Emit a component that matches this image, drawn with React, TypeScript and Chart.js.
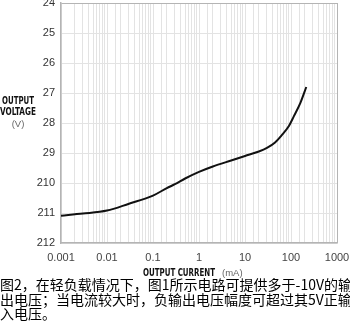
import React, { useEffect, useRef } from "react";
import { Chart, registerables } from "chart.js";

Chart.register(...registerables);

const currents = [0.001, 0.003, 0.01, 0.03, 0.1, 0.2, 0.3, 0.5, 1, 2, 5, 10, 20, 30, 45, 65, 90, 115, 160, 215];
const voltages = [-11.09, -11.02, -10.92, -10.69, -10.42, -10.17, -10.04, -9.85, -9.63, -9.45, -9.25, -9.1, -8.95, -8.83, -8.65, -8.38, -8.1, -7.78, -7.33, -6.8];

const xTickValues = [0.001, 0.01, 0.1, 1, 10, 100, 1000];
const xTickLabels = ["0.001", "0.01", "0.1", "1", "10", "100", "1000"];
const yTickValues = [-4, -5, -6, -7, -8, -9, -10, -11, -12];
const yTickLabels = ["24", "25", "26", "27", "28", "29", "210", "211", "212"];

const yTitleLines = ["OUTPUT", "VOLTAGE"];
const yTitleUnit = "(V)";
const xTitle = "OUTPUT CURRENT";
const xTitleUnit = "(mA)";
const captionLines = [
  "图2，在轻负载情况下，图1所示电路可提供多于-10V的输",
  "出电压；当电流较大时，负输出电压幅度可超过其5V正输",
  "入电压。",
];

const CANVAS_W = 350;
const CANVAS_H = 280;
const BOLD_FONT = '"Liberation Sans Narrow", "DejaVu Sans Condensed", "Arial Narrow", sans-serif';
const TICK_FONT = '"Liberation Sans", Arial, Helvetica, sans-serif';

const isPow10 = (v: number) => {
  const l = Math.log10(v);
  return Math.abs(l - Math.round(l)) < 1e-6;
};

const titlesPlugin = {
  id: "axisTitles",
  afterDraw(chart: any) {
    const ctx = chart.ctx as CanvasRenderingContext2D;
    ctx.save();
    ctx.textBaseline = "middle";
    ctx.textAlign = "center";
    ctx.fillStyle = "#111";
    ctx.font = `bold 10px ${BOLD_FONT}`;
    ctx.fillText(yTitleLines[0], 18, 101, 32);
    ctx.fillText(yTitleLines[1], 18, 112.5, 36);
    ctx.fillStyle = "#666";
    ctx.font = `9.5px ${TICK_FONT}`;
    ctx.fillText(yTitleUnit, 18, 124);

    ctx.textAlign = "left";
    ctx.fillStyle = "#111";
    ctx.font = `bold 10px ${BOLD_FONT}`;
    ctx.fillText(xTitle, 143, 273, 72);
    ctx.fillStyle = "#666";
    ctx.font = `9.5px ${TICK_FONT}`;
    ctx.fillText(xTitleUnit, 222, 273);
    ctx.restore();
  },
};

export default function App() {
  const ref = useRef<HTMLCanvasElement | null>(null);

  useEffect(() => {
    if (!ref.current) return;
    const chart = new Chart(ref.current, {
      type: "line",
      data: {
        datasets: [
          {
            data: currents.map((c, i) => ({ x: c, y: voltages[i] })),
            borderColor: "#111",
            borderWidth: 2,
            pointRadius: 0,
            cubicInterpolationMode: "monotone",
            fill: false,
          },
        ],
      },
      options: {
        animation: false,
        responsive: false,
        maintainAspectRatio: false,
        layout: { padding: { left: 0, right: 13, top: 3, bottom: 0 } },
        plugins: {
          legend: { display: false },
          tooltip: { enabled: false },
          title: { display: false },
        },
        scales: {
          x: {
            type: "logarithmic",
            min: 0.001,
            max: 1000,
            border: { display: true, color: "#b4b4b4", width: 1.5 },
            grid: {
              drawTicks: false,
              color: (c: any) => {
                const v = c.tick?.value;
                if (v !== undefined && Math.abs(v - 1000) < 1e-6) return "#b4b4b4";
                return "#e3e3e3";
              },
              lineWidth: 1,
            },
            ticks: {
              autoSkip: false,
              maxRotation: 0,
              minRotation: 0,
              padding: 8,
              color: "#444",
              font: { family: TICK_FONT, size: 11 },
              callback: (value: any) => {
                const v = Number(value);
                if (!isPow10(v)) return "";
                const idx = xTickValues.findIndex((t) => Math.abs(Math.log10(t) - Math.log10(v)) < 1e-6);
                return idx >= 0 ? xTickLabels[idx] : "";
              },
            },
            afterFit: (scale: any) => {
              scale.height = 37;
              scale.paddingLeft = 0;
              scale.paddingRight = 0;
            },
          },
          y: {
            type: "linear",
            min: -12,
            max: -4,
            border: { display: true, color: "#b4b4b4", width: 1.5 },
            grid: {
              drawTicks: false,
              color: (c: any) => {
                const v = c.tick?.value;
                if (v === -4) return "#b4b4b4";
                return "#e3e3e3";
              },
              lineWidth: 1,
            },
            ticks: {
              stepSize: 1,
              padding: 6,
              color: "#333",
              font: { family: TICK_FONT, size: 11 },
              callback: (value: any) => {
                const idx = yTickValues.indexOf(Number(value));
                return idx >= 0 ? yTickLabels[idx] : "";
              },
            },
            afterFit: (scale: any) => {
              scale.width = 61;
              scale.paddingTop = 0;
              scale.paddingBottom = 0;
            },
          },
        },
      },
      plugins: [titlesPlugin],
    });
    return () => chart.destroy();
  }, []);

  return (
    <div style={{ position: "absolute", left: 0, top: 0, width: 350, height: 325, background: "#fff", overflow: "hidden" }}>
      <canvas ref={ref} width={CANVAS_W} height={CANVAS_H} style={{ display: "block", width: CANVAS_W, height: CANVAS_H }} />
      <div
        style={{
          position: "absolute",
          left: 0,
          top: 277,
          width: 350,
          fontFamily: '"Noto Sans CJK SC", sans-serif',
          fontSize: 14,
          lineHeight: "14.5px",
          color: "#000",
          whiteSpace: "nowrap",
        }}
      >
        {captionLines.map((l, i) => (
          <div key={i}>{l}</div>
        ))}
      </div>
    </div>
  );
}
